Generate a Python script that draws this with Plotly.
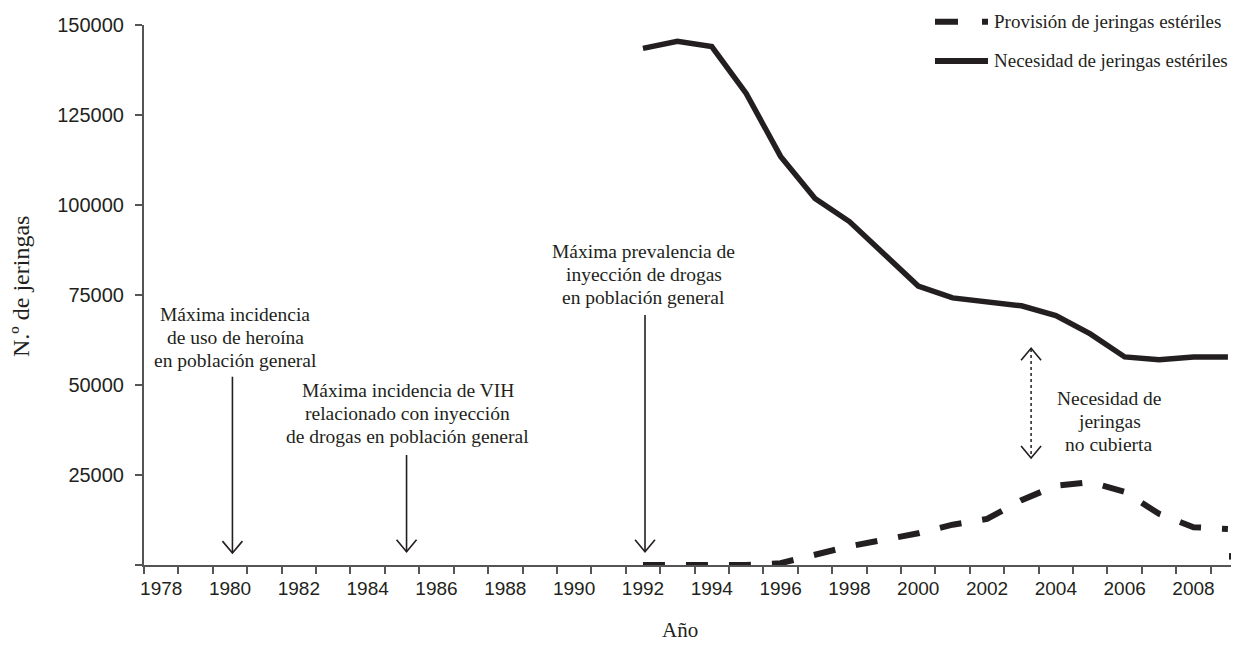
import plotly.graph_objects as go

# ---------------- data ----------------
years = list(range(1992, 2010))
necesidad = [143500, 145500, 144000, 131000, 113500, 101800, 95400, 86600, 77500,
             74200, 73000, 72000, 69300, 64200, 57800, 57000, 57800, 57800]
provision = [0, 0, 0, 0, 500, 2800, 5200, 7000, 8800,
             11200, 12800, 18000, 22000, 23000, 20300, 14200, 10500, 10000]

x_tick_years = list(range(1978, 2009, 2))
x_tick_labels = [str(y) for y in x_tick_years]
y_tick_vals = [0, 25000, 50000, 75000, 100000, 125000, 150000]
y_tick_labels = ["", "25000", "50000", "75000", "100000", "125000", "150000"]

series_names = ["Provisión de jeringas estériles", "Necesidad de jeringas estériles"]

ann_heroina = ["Máxima incidencia", "de uso de heroína", "en población general"]
ann_vih = ["Máxima incidencia de VIH", "relacionado con inyección", "de drogas en población general"]
ann_prev = ["Máxima prevalencia de", "inyección de drogas", "en población general"]
ann_gap = ["Necesidad de", "jeringas", "no cubierta"]

# ---------------- style ----------------
INK = "#231f20"
AXIS = "#555555"
SERIF = "Liberation Serif, Times New Roman, serif"
SANS = "Liberation Sans, Arial, sans-serif"
OFF = 8  # default page body margin
W, H = 1239 - OFF, 649 - OFF
ML, MR, MT, MB = 136, 0, 17, 84
PW = W - ML - MR
XR = [1977.5, 1977.5 + PW / 34.41]
YR = [0, 150000]

fig = go.Figure()
fig.add_trace(go.Scatter(x=years, y=provision, mode="lines", name=series_names[0],
                         line=dict(color=INK, width=6, dash="22px,21px"),
                         showlegend=False, hoverinfo="x+y"))
fig.add_trace(go.Scatter(x=years, y=necesidad, mode="lines", name=series_names[1],
                         line=dict(color=INK, width=5.5),
                         showlegend=False, hoverinfo="x+y"))

shapes = []
annotations = []

LINE_STEP = 6400  # vertical spacing between text lines, in y units


def text_block(lines, xc, ytop):
    for i, t in enumerate(lines):
        annotations.append(dict(x=xc, y=ytop - i * LINE_STEP, xref="x", yref="y",
                                text=t, showarrow=False, xanchor="center", yanchor="middle",
                                font=dict(family=SERIF, size=19.5, color=INK)))


def vhead(x, y, up=False):
    sgn = -1 if up else 1
    shapes.append(dict(type="path", xref="x", yref="y", xsizemode="pixel", ysizemode="pixel",
                       xanchor=x, yanchor=y,
                       path=f"M-10,{12*sgn} L0,0 L10,{12*sgn}",
                       line=dict(color=INK, width=1.6)))


def down_arrow(x, ytop, ytip):
    shapes.append(dict(type="line", xref="x", yref="y", x0=x, x1=x, y0=ytop, y1=ytip,
                       line=dict(color=INK, width=1.6)))
    vhead(x, ytip)


# annotations with arrows
text_block(ann_heroina, 1980.15, 69640)
down_arrow(1980.07, 52300, 3300)

text_block(ann_vih, 1985.16, 48610)
down_arrow(1985.13, 30550, 3700)

text_block(ann_prev, 1992.03, 87030)
down_arrow(1992.06, 69440, 3700)

text_block(ann_gap, 2005.55, 46300)
shapes.append(dict(type="line", xref="x", yref="y", x0=2003.28, x1=2003.28, y0=60000, y1=29800,
                   line=dict(color=INK, width=1.5, dash="dot")))
vhead(2003.28, 29700)
vhead(2003.28, 60200, up=True)

# small end mark near the axis end
shapes.append(dict(type="line", xref="x", yref="y", x0=2009.06, x1=2009.06, y0=1500, y1=3300,
                   line=dict(color=INK, width=2)))

# manual legend (paper coordinates; inputs are page pixels)
ph = H - MT - MB


def px2paper(px, py):
    fx, fy = px - OFF, py - OFF
    return (fx - ML) / PW, (H - MB - fy) / ph


leg_rows = [(21.7, "23px,24px"), (61, "solid")]
for (py, dash), name in zip(leg_rows, series_names):
    x0, y0 = px2paper(935, py)
    x1, _ = px2paper(988, py)
    shapes.append(dict(type="line", xref="paper", yref="paper", x0=x0, x1=x1, y0=y0, y1=y0,
                       line=dict(color=INK, width=6, dash=dash)))
    tx, ty = px2paper(992, py)
    annotations.append(dict(x=tx, y=ty, xref="paper", yref="paper", text=name,
                            showarrow=False, xanchor="left", yanchor="middle",
                            font=dict(family=SERIF, size=19, color=INK)))

# axis titles
tx, ty = px2paper(21, 287)
annotations.append(dict(x=tx, y=ty, xref="paper", yref="paper", text="N.º de jeringas",
                        textangle=-90, showarrow=False, xanchor="center", yanchor="middle",
                        font=dict(family=SERIF, size=24, color=INK)))
tx, ty = px2paper(680, 630)
annotations.append(dict(x=tx, y=ty, xref="paper", yref="paper", text="Año",
                        showarrow=False, xanchor="center", yanchor="middle",
                        font=dict(family=SERIF, size=21, color=INK)))

fig.update_layout(
    width=W, height=H,
    margin=dict(l=ML, r=MR, t=MT, b=MB, pad=0),
    paper_bgcolor="white", plot_bgcolor="white",
    showlegend=False,
    shapes=shapes, annotations=annotations,
    xaxis=dict(range=XR, showgrid=False, zeroline=False,
               showline=True, linecolor=AXIS, linewidth=2,
               tickmode="array", tickvals=x_tick_years, ticktext=x_tick_labels,
               ticks="", ticklabelstandoff=5,
               tickfont=dict(family=SANS, size=19, color=INK),
               minor=dict(tick0=1977.5, dtick=1, ticks="outside", ticklen=7,
                          tickwidth=2, tickcolor=AXIS, showgrid=False)),
    yaxis=dict(range=YR, showgrid=False, zeroline=False,
               showline=True, linecolor=AXIS, linewidth=2,
               tickmode="array", tickvals=y_tick_vals, ticktext=y_tick_labels,
               ticks="outside", ticklen=7, tickwidth=2, tickcolor=AXIS,
               ticklabelstandoff=7,
               tickfont=dict(family=SANS, size=20, color=INK)),
)

fig.write_html("out.html")
